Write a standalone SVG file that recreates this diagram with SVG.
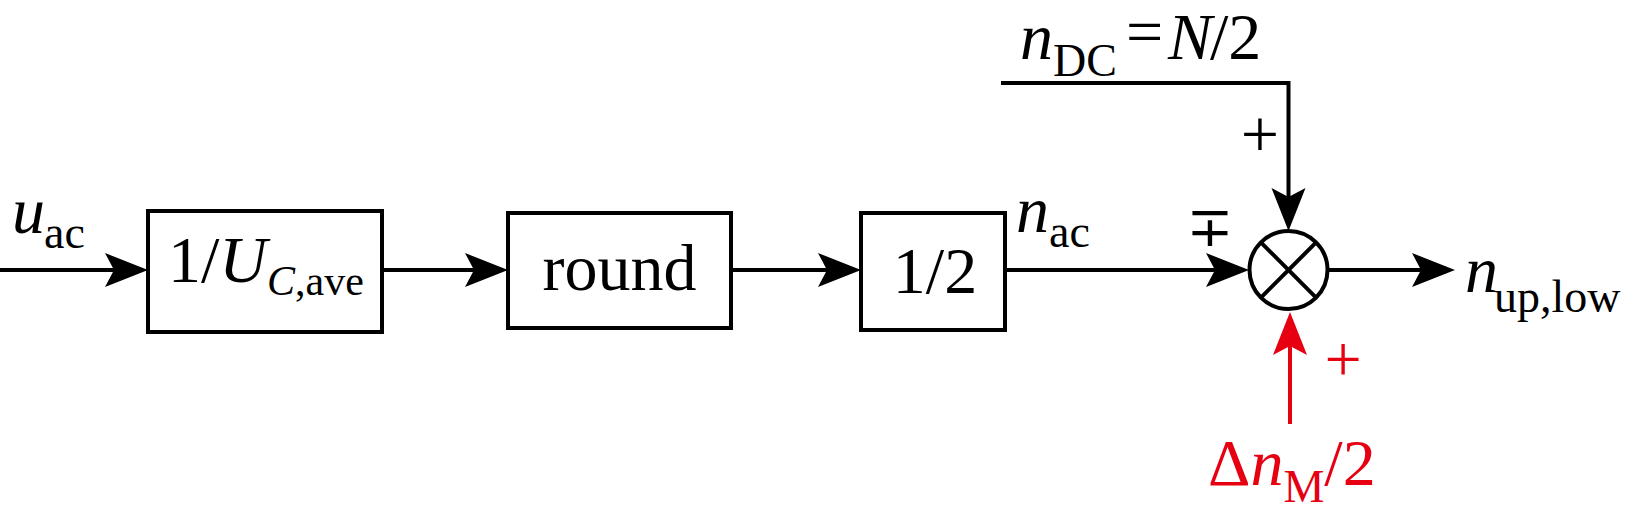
<svg xmlns="http://www.w3.org/2000/svg" width="1631" height="524" viewBox="0 0 1631 524">
<defs>
<marker id="ah" markerUnits="userSpaceOnUse" orient="auto" refX="0" refY="0" markerWidth="50" markerHeight="40" overflow="visible">
<path d="M16,0 L-27,-17 L-18,0 L-27,17 Z" fill="#000"/>
</marker>
<marker id="ahr" markerUnits="userSpaceOnUse" orient="auto" refX="0" refY="0" markerWidth="50" markerHeight="40" overflow="visible">
<path d="M16,0 L-27,-17 L-18,0 L-27,17 Z" fill="#E60012"/>
</marker>
</defs>
<rect width="1631" height="524" fill="#fff"/>
<g id="connectors" fill="none" stroke="#000" stroke-width="4">
<line x1="0" y1="270" x2="132" y2="270" marker-end="url(#ah)"/>
<line x1="382" y1="270" x2="492" y2="270" marker-end="url(#ah)"/>
<line x1="731" y1="270" x2="845" y2="270" marker-end="url(#ah)"/>
<line x1="1005" y1="270" x2="1233" y2="270" marker-end="url(#ah)"/>
<line x1="1328" y1="270" x2="1439" y2="270" marker-end="url(#ah)"/>
<polyline points="1001,83 1288.5,83 1288.5,215" marker-end="url(#ah)"/>
<line x1="1290" y1="424" x2="1290" y2="328" stroke="#E60012" marker-end="url(#ahr)"/>
</g>
<g id="input-label" font-family="Liberation Serif, serif">
<text transform="scale(2)" font-size="33" x="6" y="116.5"><tspan font-style="italic">u</tspan><tspan font-size="23" x="22" y="124">ac</tspan></text>
</g>
<g id="box-gain" font-family="Liberation Serif, serif">
<rect x="148" y="211" width="234" height="121" fill="#fff" stroke="#000" stroke-width="4"/>
<text transform="scale(2)" font-size="33" x="84" y="141">1/<tspan font-style="italic">U</tspan><tspan font-size="21" font-style="italic" y="147.5">C</tspan><tspan font-size="21" y="147.5">,ave</tspan></text>
</g>
<g id="box-round" font-family="Liberation Serif, serif">
<rect x="508" y="213" width="223" height="115" fill="#fff" stroke="#000" stroke-width="4"/>
<text transform="scale(2)" font-size="33" x="309.75" y="145" text-anchor="middle">round</text>
</g>
<g id="box-half" font-family="Liberation Serif, serif">
<rect x="861" y="213" width="144" height="117" fill="#fff" stroke="#000" stroke-width="4"/>
<text transform="scale(2)" font-size="33" x="467.5" y="146.5" text-anchor="middle">1/2</text>
</g>
<g id="label-nac" font-family="Liberation Serif, serif">
<text transform="scale(2)" font-size="33" x="508" y="116"><tspan font-style="italic">n</tspan><tspan font-size="23" x="524.5" y="123.5">ac</tspan></text>
</g>
<g id="label-ndc" font-family="Liberation Serif, serif">
<text transform="scale(2)" font-size="33" x="510" y="29.5"><tspan font-style="italic">n</tspan><tspan font-size="23" x="526.5" y="38">DC</tspan><tspan x="563" y="27">=</tspan><tspan font-style="italic" x="584" y="29.5">N</tspan><tspan x="605" y="29.5">/2</tspan></text>
</g>
<g id="summer" font-family="Liberation Serif, DejaVu Serif, serif">
<circle cx="1288.5" cy="270" r="39" fill="#fff" stroke="#000" stroke-width="4"/>
<line x1="1260.9" y1="242.4" x2="1316.1" y2="297.6" stroke="#000" stroke-width="4"/>
<line x1="1316.1" y1="242.4" x2="1260.9" y2="297.6" stroke="#000" stroke-width="4"/>
<text transform="scale(2)" font-size="34" x="630" y="78.5" text-anchor="middle">+</text>
<text transform="scale(2)" font-size="28" x="605" y="123" text-anchor="middle">∓</text>
<text transform="scale(2)" font-size="33" fill="#E60012" x="671.5" y="190.5" text-anchor="middle">+</text>
</g>
<g id="label-out" font-family="Liberation Serif, serif">
<text transform="scale(2)" font-size="33" x="732.5" y="146"><tspan font-style="italic">n</tspan><tspan font-size="23" x="747" y="156">up,low</tspan></text>
</g>
<g id="label-dnm" font-family="Liberation Serif, serif">
<text transform="scale(2)" font-size="33" fill="#E60012" x="604" y="242.5">Δ<tspan font-style="italic">n</tspan><tspan font-size="23" y="251">M</tspan><tspan y="242.5">/2</tspan></text>
</g>
</svg>
